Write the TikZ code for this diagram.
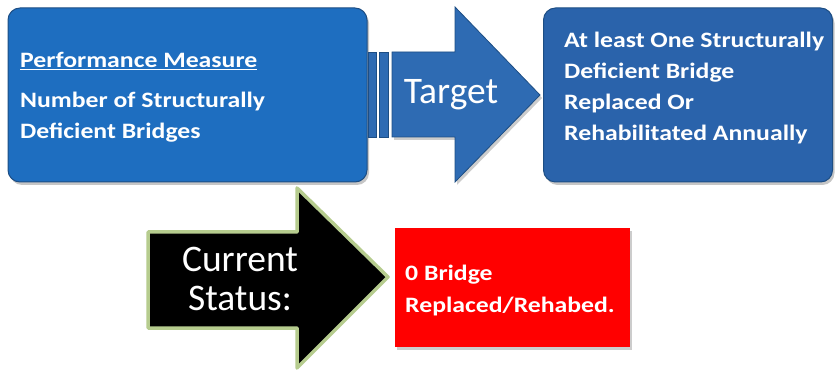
\documentclass[tikz,border=0pt]{standalone}
\usepackage{fontspec}
\setmainfont{Carlito}
\newfontfamily\widefont{Carlito}[FakeStretch=1.17]
\usepackage{xcolor}
\usetikzlibrary{shadows}

\definecolor{boxblue}{HTML}{1E6EC0}
\definecolor{boxline}{HTML}{1D4E84}
\definecolor{arrowblue}{HTML}{2E6BB3}
\definecolor{rightblue}{HTML}{2A63AB}
\definecolor{statusred}{HTML}{FF0000}
\definecolor{arrowrim}{HTML}{B6CC8E}

\tikzset{
	bluebox/.style={draw=boxline, line width=1pt, rounded corners=12pt,
		drop shadow={opacity=0.45, shadow xshift=2pt, shadow yshift=-3pt}},
	boxtext/.style={text=white, font=\widefont\bfseries\fontsize{22}{31}\selectfont,
		align=left, anchor=west, inner sep=0pt},
	bigtext/.style={text=white, font=\fontsize{37.5}{39}\selectfont,
		align=center, inner sep=0pt},
}

\begin{document}
\begin{tikzpicture}[x=1pt,y=-1pt]
		\useasboundingbox (0,0) rectangle (835,371);
		
		%BOXES
		\node[bluebox, fill=boxblue, minimum width=359pt, minimum height=174pt] (measure) at (187.5,95) {};
		\node[bluebox, fill=rightblue, minimum width=289pt, minimum height=174pt] (goal) at (688,95) {};
		
		%TARGET ARROW
		\begin{scope}[fill=arrowblue, draw=boxline, line width=0.8pt]
			\filldraw (368,52) rectangle (376,137);
			\filldraw (379,52) rectangle (388,137);
			\filldraw[drop shadow={opacity=0.4, shadow xshift=2pt, shadow yshift=-3pt}]
				(392,52) -- (455,52) -- (455,7) -- (540,95) -- (455,182) -- (455,137) -- (392,137) -- cycle;
		\end{scope}
		
		%STATUS ARROW
		\filldraw[fill=black, draw=arrowrim, line width=3.5pt, line join=round]
			(148,232) -- (297,232) -- (297,188) -- (388,277) -- (297,368) -- (297,328) -- (148,328) -- cycle;
		
		%RED BOX
		\node[fill=statusred, minimum width=235pt, minimum height=119pt, inner sep=0pt,
			drop shadow={opacity=0.4, shadow xshift=2pt, shadow yshift=-3pt}] (status) at (512.5,287.5) {};
		
		%TEXTS
		\node[boxtext] (measuretext) at (20,97) {\underline{Performance Measure}\\[9pt] Number of Structurally\\ Deficient Bridges};
		\node[bigtext] (targettext) at (451,95) {Target};
		\node[boxtext] (goaltext) at (564,88) {At least One Structurally\\ Deficient Bridge\\ Replaced Or\\ Rehabilitated Annually};
		\node[bigtext] (currenttext) at (240,279) {Current\\ Status:};
		\node[boxtext, font=\widefont\bfseries\fontsize{22}{32}\selectfont] (statustext) at (405,291) {0 Bridge\\ Replaced/Rehabed.};
		
	\end{tikzpicture}
\end{document}
